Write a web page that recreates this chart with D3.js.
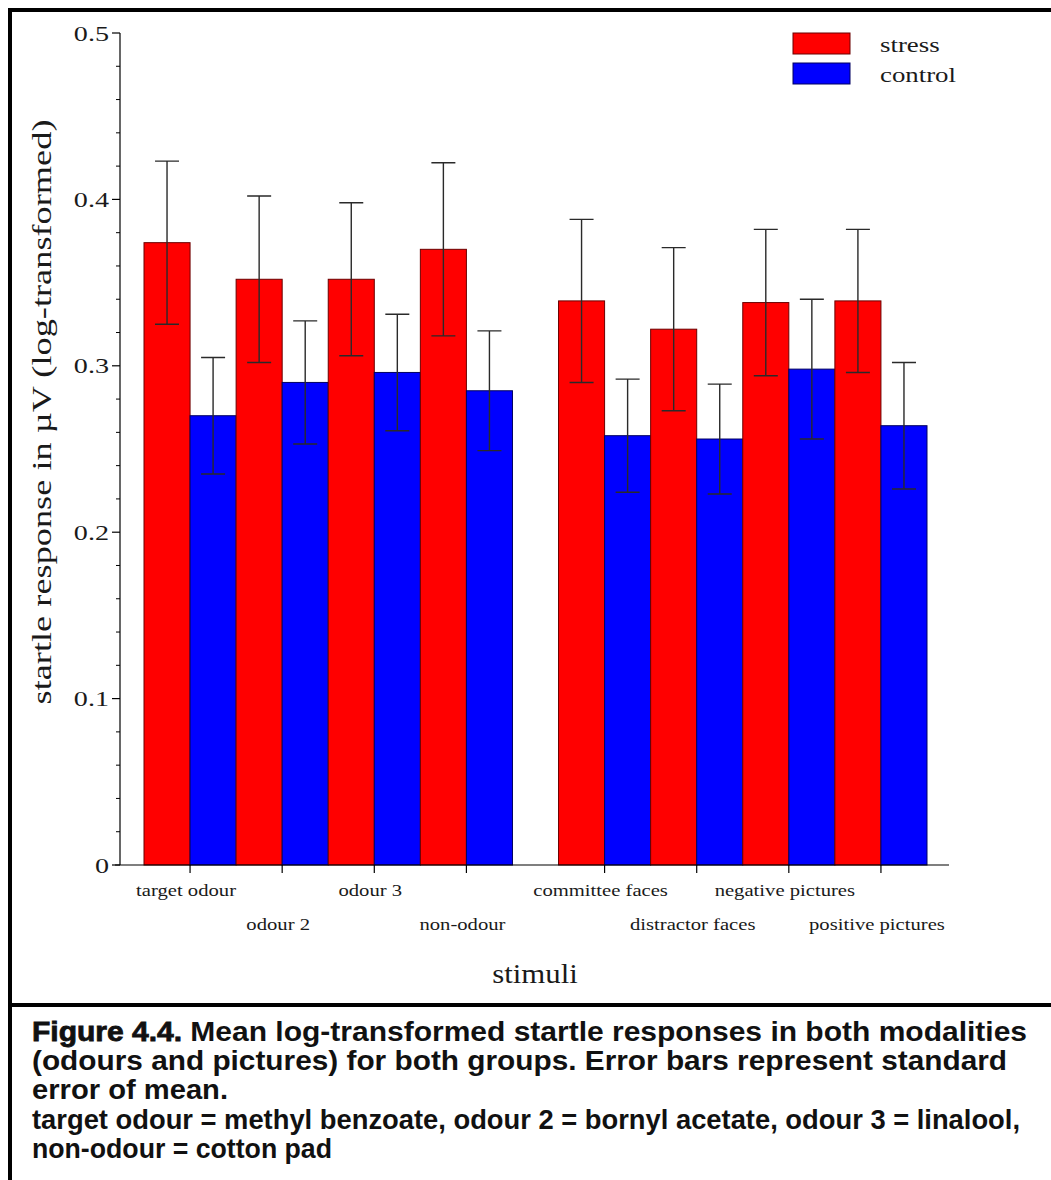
<!DOCTYPE html>
<html>
<head>
<meta charset="utf-8">
<script src="https://cdn.jsdelivr.net/npm/d3@7"></script>
<style>
  html, body { margin: 0; padding: 0; background: #fff; }
  svg { display: block; }
</style>
</head>
<body>
<svg id="chart" width="1051" height="1180"></svg>
<script>
// Stimulus categories, in drawing order (first four are odours, last four pictures)
const categories = ["target odour", "odour 2", "odour 3", "non-odour",
                    "committee faces", "distractor faces", "negative pictures", "positive pictures"];
const groups = ["stress", "control"];

// Mean log-transformed startle response (µV) per group
const stressMean  = [0.374, 0.352, 0.352, 0.370, 0.339, 0.322, 0.338, 0.339];
const controlMean = [0.270, 0.290, 0.296, 0.285, 0.258, 0.256, 0.298, 0.264];
// Standard error of the mean per group
const stressSE    = [0.049, 0.050, 0.046, 0.052, 0.049, 0.049, 0.044, 0.043];
const controlSE   = [0.035, 0.037, 0.035, 0.036, 0.034, 0.033, 0.042, 0.038];

const yTicks = [0, 0.1, 0.2, 0.3, 0.4, 0.5];

// Caption lines as [text, heavy] pieces
const captionLines = [
  [["Figure 4.4.", true], [" Mean log-transformed startle responses in both modalities", false]],
  [["(odours and pictures) for both groups. Error bars represent standard", false]],
  [["error of mean.", false]],
  [["target odour = methyl benzoate, odour 2 = bornyl acetate, odour 3 = linalool,", false]],
  [["non-odour = cotton pad", false]]
];
const captionWidths = [995, 975, 196, 988, 300];

const svg = d3.select("#chart");
const serif = "'Liberation Serif', 'Times New Roman', serif";
const sans = "'Liberation Sans', Arial, sans-serif";
const ink = "#1a1a1a";

svg.append("rect").attr("width", 1051).attr("height", 1180).attr("fill", "#fff");

// Frame around chart and caption
svg.append("path")
  .attr("d", "M10,1180 V10 H1051 M8,1005 H1051")
  .attr("fill", "none").attr("stroke", "#000").attr("stroke-width", 4);

// Serif label with a slightly wide face
function wideText(parent, x, y, txt, size, sx, anchor) {
  return parent.append("text")
    .attr("transform", `translate(${x},${y}) scale(${sx},1)`)
    .attr("text-anchor", anchor || "start")
    .attr("font-family", serif).attr("font-size", size)
    .attr("fill", ink).text(txt);
}

// Scales: x works in bar slots (one slot per bar, one empty slot between modalities)
const x = d3.scaleLinear().domain([0, 17]).range([144, 927]);
const y = d3.scaleLinear().domain([0, 0.5]).range([865, 33]);
const slotOf = i => (i < 4 ? i * 2 : 9 + (i - 4) * 2);

const rows = [];
categories.forEach((c, i) => {
  rows.push({ cat: c, i, g: "stress", slot: slotOf(i), mean: stressMean[i], se: stressSE[i] });
  rows.push({ cat: c, i, g: "control", slot: slotOf(i) + 1, mean: controlMean[i], se: controlSE[i] });
});
const fill = { stress: "#ff0000", control: "#0000ff" };
const edge = { stress: "#6b0000", control: "#000060" };

// Bars
svg.append("g").selectAll("rect").data(rows).join("rect")
  .attr("x", d => x(d.slot))
  .attr("width", d => x(d.slot + 1) - x(d.slot))
  .attr("y", d => y(d.mean))
  .attr("height", d => y(0) - y(d.mean))
  .attr("fill", d => fill[d.g])
  .attr("stroke", d => edge[d.g])
  .attr("stroke-width", 1);

// Error bars (±1 SE)
const eb = svg.append("g").attr("stroke", "#2a2a2a").attr("stroke-width", 1.4).attr("fill", "none");
eb.selectAll("path").data(rows).join("path")
  .attr("d", d => {
    const cx = (x(d.slot) + x(d.slot + 1)) / 2;
    const t = y(d.mean + d.se), b = y(d.mean - d.se);
    return `M${cx},${t}V${b}M${cx - 12},${t}H${cx + 12}M${cx - 12},${b}H${cx + 12}`;
  });

// Y axis with minor ticks every 0.02
const yAxisG = svg.append("g").attr("transform", "translate(120,0)");
const minor = d3.range(0, 0.5001, 0.02).filter(v => Math.abs(v * 10 - Math.round(v * 10)) > 1e-6);
yAxisG.append("path").attr("d", `M0,${y(0)}V${y(0.5)}`).attr("stroke", "#000").attr("stroke-width", 1.2);
yAxisG.selectAll(".minor").data(minor).join("line").attr("class", "minor")
  .attr("x1", -4).attr("x2", 0).attr("y1", d => y(d)).attr("y2", d => y(d))
  .attr("stroke", "#000").attr("stroke-width", 1);
yAxisG.selectAll(".major").data(yTicks).join("line").attr("class", "major")
  .attr("x1", -8).attr("x2", 0).attr("y1", d => y(d)).attr("y2", d => y(d))
  .attr("stroke", "#000").attr("stroke-width", 1.2);
yTicks.forEach(v => {
  wideText(yAxisG, -11, y(v) + 7.5, v === 0 ? "0" : d3.format(".1f")(v), 22, 1.28, "end");
});

// X axis: baseline with ticks between each pair of bars
const xAxisG = svg.append("g");
xAxisG.append("path").attr("d", `M115,${y(0)}H949`).attr("stroke", "#000").attr("stroke-width", 1.2);
xAxisG.selectAll("line").data(categories).join("line")
  .attr("x1", (d, i) => x(slotOf(i) + 1)).attr("x2", (d, i) => x(slotOf(i) + 1))
  .attr("y1", y(0)).attr("y2", y(0) + 8)
  .attr("stroke", "#000").attr("stroke-width", 1.2);
categories.forEach((c, i) => {
  wideText(xAxisG, x(slotOf(i) + 1) - 4, i % 2 === 0 ? 896 : 930, c, 17.5, 1.18, "middle");
});

// Axis titles
svg.append("text")
  .attr("transform", "translate(51,412) rotate(-90)")
  .attr("text-anchor", "middle")
  .attr("font-family", serif).attr("font-size", 27)
  .attr("textLength", 585).attr("lengthAdjust", "spacingAndGlyphs")
  .attr("fill", ink)
  .text("startle response in µV (log-transformed)");
wideText(svg, 535, 983, "stimuli", 28, 1.1, "middle");

// Legend
const legend = svg.append("g");
groups.forEach((g, k) => {
  legend.append("rect").attr("x", 793).attr("y", 33 + k * 30).attr("width", 57).attr("height", 21)
    .attr("fill", fill[g]).attr("stroke", edge[g]).attr("stroke-width", 1);
  wideText(legend, 880, 52 + k * 30, g, 22, 1.22, "start");
});

// Caption: bold sans, each line fitted to its width
const cap = svg.append("g");
captionLines.forEach((parts, li) => {
  const t = cap.append("text").attr("x", 32).attr("y", 1041 + li * 29.2)
    .attr("font-family", sans).attr("font-size", 27).attr("font-weight", "bold").attr("fill", "#111")
    .attr("textLength", captionWidths[li]).attr("lengthAdjust", "spacingAndGlyphs");
  parts.forEach(([s, heavy]) => t.append("tspan")
    .attr("stroke", heavy ? "#111" : "none").attr("stroke-width", heavy ? 0.8 : 0)
    .text(s));
});
</script>
</body>
</html>
